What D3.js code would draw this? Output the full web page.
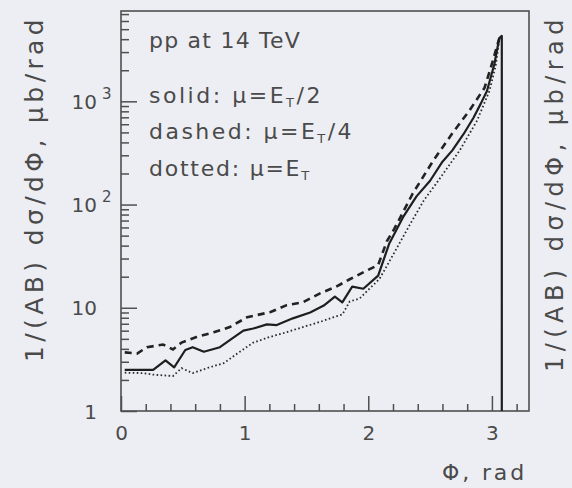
<!DOCTYPE html>
<html>
<head>
<meta charset="utf-8">
<script src="https://cdn.jsdelivr.net/npm/d3@7"></script>
<style>
  html, body { margin: 0; padding: 0; background: #edeef3; }
  svg { display: block; }
  text { font-family: "DejaVu Sans", sans-serif; fill: #4a4a4a; }
</style>
</head>
<body>
<svg id="chart" width="572" height="488"></svg>
<script>
// Azimuthal distribution 1/(AB) dσ/dΦ for pp at 14 TeV, three scale choices.
const phiSolid = [0.03, 0.26, 0.36, 0.43, 0.52, 0.58, 0.67, 0.80, 0.88, 0.99, 1.07, 1.18, 1.26, 1.39,
  1.53, 1.64, 1.73, 1.79, 1.87, 1.96, 2.08, 2.17, 2.28, 2.39, 2.50, 2.60, 2.68, 2.77, 2.85, 2.91,
  2.96, 3.02, 3.06, 3.08, 3.08];
const solidValues = [2.5, 2.5, 3.1, 2.65, 3.9, 4.15, 3.75, 4.15, 4.85, 6.0, 6.3, 6.9, 6.8, 7.9,
  9.0, 10.5, 12.8, 11.3, 16.0, 15.3, 20.5, 42, 75, 120, 170, 260, 335, 480, 690, 950,
  1260, 2300, 4100, 4300, 1];

const phiDashed = [0.03, 0.13, 0.21, 0.34, 0.42, 0.49, 0.61, 0.75, 0.88, 1.02, 1.10, 1.21, 1.34, 1.47,
  1.61, 1.74, 1.85, 1.99, 2.08, 2.15, 2.21, 2.36, 2.52, 2.68, 2.82, 2.94, 3.00, 3.06];
const dashedValues = [3.7, 3.6, 4.15, 4.4, 3.95, 4.6, 5.2, 5.8, 6.5, 8.1, 8.5, 9.1, 10.6, 11.3,
  13.8, 16, 18.9, 23, 26, 44, 58, 128, 260, 490, 820, 1350, 2300, 4100];

const phiDotted = [0.03, 0.18, 0.26, 0.42, 0.49, 0.58, 0.72, 0.83, 0.94, 1.07, 1.20, 1.34, 1.47, 1.61,
  1.72, 1.79, 1.85, 1.93, 1.99, 2.09, 2.17, 2.34, 2.45, 2.55, 2.74, 2.88, 2.98, 3.03, 3.06];
const dottedValues = [2.35, 2.33, 2.25, 2.18, 2.6, 2.33, 2.66, 2.9, 3.6, 4.6, 5.2, 5.8, 6.5, 7.3,
  8.1, 8.6, 11.5, 12.3, 14.5, 19, 28, 65, 110, 160, 335, 650, 1260, 2200, 3900];

const xMajorTicks = [0, 1, 2, 3];
const xMinorTicks = [0.2, 0.4, 0.6, 0.8, 1.2, 1.4, 1.6, 1.8, 2.2, 2.4, 2.6, 2.8, 3.2];
const yMajorTicks = [1, 10, 100, 1000];
const yTickBase = ["1", "10", "10", "10"];
const yTickExp = ["", "", "2", "3"];

const legendStyles = ["solid", "dashed", "dotted"];
const legendScales = ["/2", "/4", ""];
const energyLabel = "pp at 14 TeV";
const yTitle = "1/(AB) dσ/dΦ, μb/rad";
const xTitle = "Φ, rad";

const svg = d3.select("#chart");
const frame = { left: 121, right: 529, top: 11, bottom: 411 };

const x = d3.scaleLinear().domain([0, 3.3]).range([frame.left, frame.right]);
const y = d3.scaleLog().domain([1, 7500]).range([frame.bottom, frame.top]).clamp(true);

// minor y ticks: 2..9 within each decade
const yMinorTicks = [];
for (let dec = 1; dec <= 1000; dec *= 10) {
  for (let m = 2; m <= 9; m++) {
    const v = m * dec;
    if (v < 7500) yMinorTicks.push(v);
  }
}

const ink = "#4f4f4f";

// frame
svg.append("rect")
  .attr("x", frame.left).attr("y", frame.top)
  .attr("width", frame.right - frame.left).attr("height", frame.bottom - frame.top)
  .attr("fill", "none").attr("stroke", ink).attr("stroke-width", 1.6);

function styleAxis(g) {
  g.select(".domain").remove();
  g.selectAll(".tick line").attr("stroke", ink).attr("stroke-width", 1.5);
  g.selectAll(".tick text").attr("fill", "#4a4a4a")
    .style("font-family", "DejaVu Sans, sans-serif");
}

// x axis: ticks point into the plot
svg.append("g").attr("transform", `translate(0,${frame.bottom})`)
  .call(d3.axisBottom(x).tickValues(xMinorTicks).tickSize(-7).tickFormat(""))
  .call(styleAxis);
svg.append("g").attr("transform", `translate(0,${frame.bottom})`)
  .call(d3.axisBottom(x).tickValues(xMajorTicks).tickSize(-15).tickPadding(15).tickFormat(d3.format("d")))
  .call(styleAxis)
  .call(g => g.selectAll(".tick text").attr("font-size", 20));

// y axis
svg.append("g").attr("transform", `translate(${frame.left},0)`)
  .call(d3.axisLeft(y).tickValues(yMinorTicks).tickSize(-8).tickFormat(""))
  .call(styleAxis);
const yMajor = svg.append("g").attr("transform", `translate(${frame.left},0)`)
  .call(d3.axisLeft(y).tickValues(yMajorTicks).tickSize(-16).tickFormat(""))
  .call(styleAxis);

yMajor.selectAll(".tick").each(function (d, i) {
  const t = d3.select(this);
  t.selectAll("text").remove();
  t.append("text")
    .attr("x", -24).attr("y", 0).attr("dy", "0.36em")
    .attr("text-anchor", "end").attr("font-size", 20)
    .text(yTickBase[i]);
  if (yTickExp[i]) {
    t.append("text")
      .attr("x", -19).attr("y", -3)
      .attr("text-anchor", "start").attr("font-size", 15)
      .text(yTickExp[i]);
  }
});

// curves
const line = d3.line().x(d => x(d[0])).y(d => y(d[1]));
const plot = svg.append("g");

plot.append("path").datum(d3.zip(phiDotted, dottedValues))
  .attr("d", line).attr("fill", "none")
  .attr("stroke", "#2a2a2a").attr("stroke-width", 1.8)
  .attr("stroke-dasharray", "1.6,2.4");
plot.append("path").datum(d3.zip(phiDashed, dashedValues))
  .attr("d", line).attr("fill", "none")
  .attr("stroke", "#222").attr("stroke-width", 2.6)
  .attr("stroke-dasharray", "7,5");
plot.append("path").datum(d3.zip(phiSolid, solidValues))
  .attr("d", line).attr("fill", "none")
  .attr("stroke", "#1e1e1e").attr("stroke-width", 2.2)
  .attr("stroke-linejoin", "round");

// spread a text element's glyphs so it spans the given width
function fitWidth(sel, target) {
  const n = sel.text().length;
  const w = sel.node().getComputedTextLength();
  sel.attr("letter-spacing", ((target - w) / n).toFixed(2));
}

// annotations
fitWidth(svg.append("text").attr("x", 149).attr("y", 48).attr("font-size", 22).text(energyLabel), 152);

const legendY = [103, 139, 176];
const legendWidth = [174, 205, 162];
legendStyles.forEach((s, i) => {
  const t = svg.append("text").attr("x", 149).attr("y", legendY[i]).attr("font-size", 22);
  t.append("tspan").text(`${s}: μ=E`);
  t.append("tspan").attr("font-size", 13).attr("dy", 4).text("T");
  t.append("tspan").attr("dy", -4).text(legendScales[i]);
  fitWidth(t, legendWidth[i]);
});

// axis titles
fitWidth(svg.append("text").attr("x", 442).attr("y", 480).attr("font-size", 22).text(xTitle), 85);

fitWidth(svg.append("text")
  .attr("transform", "translate(43,362) rotate(-90)")
  .attr("font-size", 25).text(yTitle), 347);

fitWidth(svg.append("text")
  .attr("transform", "translate(563,372) rotate(-90)")
  .attr("font-size", 24).text(yTitle), 358);
</script>
</body>
</html>
